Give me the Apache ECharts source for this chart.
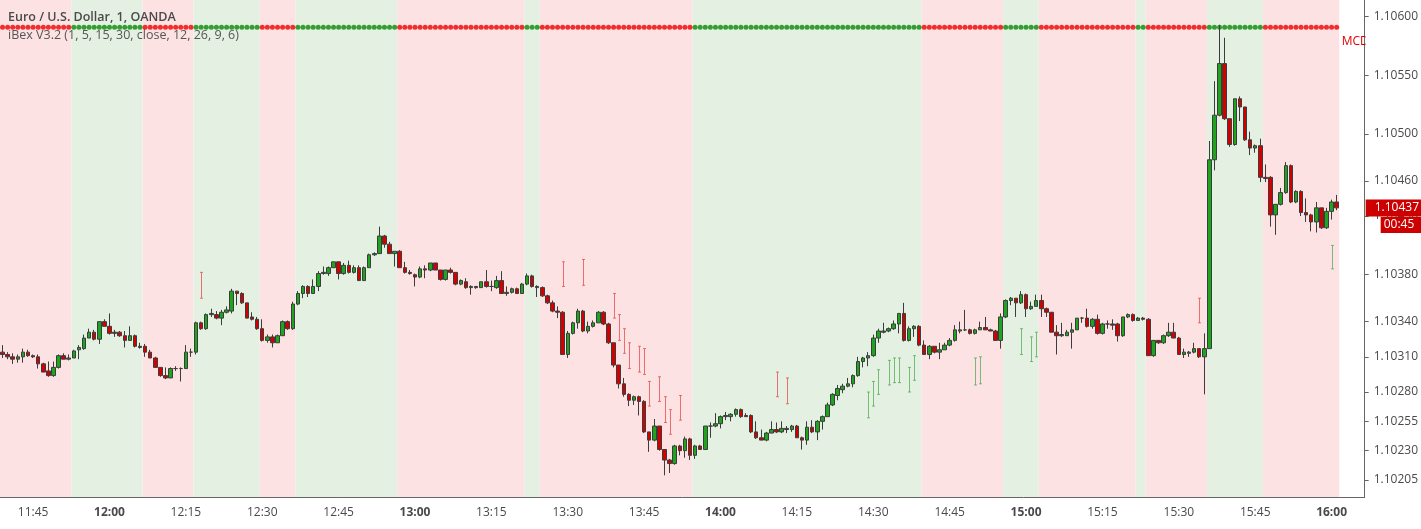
<!DOCTYPE html>
<html>
<head>
<meta charset="utf-8">
<script src="https://cdn.jsdelivr.net/npm/echarts@6/dist/echarts.min.js"></script>
<style>
  html, body { margin: 0; padding: 0; background: #fff; }
  #chart { width: 1421px; height: 529px; }
</style>
</head>
<body>
<div id="chart"></div>
<script>
// prices are in 0.00001 steps above 1.10000
const base = 1.1;
const firstBar = '11:39';
const lastCategory = '16:06';

// one bar per minute, 11:39 .. 16:01
const opens = [
  314,312,310,308,310,314,311,310,304,298,294,301,311,308,309,316,317,326,331,325,340,
  336,331,331,328,324,328,319,319,314,309, 301,294,292,300,300,300,314,314,339,334,
  346,346,343,348,349,366,364,356,344,342, 334,324,327,322,328,340,334,355,364,370,
  364,370,381,381,386,391,381,388,382,386, 375,386,397,398,413,406,398,400,386,382,
  380,378,385,384,390,384,376,384,382,372, 374,369,370,369,374,370,369,375,364,365,
  368,364,372,379,370,369,362,356,349,348, 312,330,339,349,332,336,339,348,338,322,
  303,287,278,273,276,272,246,239,251,231, 222,219,234,230,240,226,234,231,251,251,
  253,259,259,261,265,260,260,246,241,239, 245,248,246,249,248,251,241,239,250,246,
  255,259,269,277,282,285,287,294,306,309, 311,326,331,332,334,338,347,324,334,336,
  320,312,319,314,316,320,324,332,333,333, 330,333,335,333,332,324,344,358,360,356,
  363,351,353,358,351,348,331,328,328,331, 333,343,343,336,342,330,338,338,338,328,
  344,346,341,343,342,311,324,322,328,331, 326,312,313,314,317,310,317,478,516,560,
  513,491,530,523,495,488,490,463,463,431, 440,450,473,442,451,433,431,425,437,420,
  434,442
];
const highs = [
  320,314,313,312,317,316,312,312,305,306,306,312,313,312,316,320,329,334,333,340,342,
  347,333,332,332,336,329,322,321,316,310, 301,301,301,302,301,320,317,340,340,347,
  351,349,350,353,368,366,365,356,348,344, 342,329,329,329,341,341,357,366,371,371,
  376,383,387,387,391,391,390,392,388,388, 387,398,399,421,414,408,400,401,391,384,
  381,387,388,390,390,384,384,386,382,376, 377,371,370,374,384,375,379,383,370,369,
  369,373,381,380,371,370,363,358,353,349, 332,340,351,350,340,341,349,349,339,322,
  303,292,279,277,277,273,246,257,251,231, 223,235,235,242,241,235,235,251,254,262,
  260,263,262,266,266,262,261,255,248,246, 255,254,255,251,252,252,242,255,256,256,
  260,271,279,286,287,292,295,310,310,314, 329,334,339,335,341,347,356,336,337,337,
  324,320,319,322,322,326,337,340,350,334, 334,340,344,334,333,347,359,361,360,366,
  364,357,363,363,352,348,337,339,333,339, 343,344,351,343,346,339,341,342,339,344,
  347,347,344,344,343,324,324,329,339,339, 327,317,315,322,317,330,494,545,593,582,
  513,530,532,523,502,491,496,474,464,440, 454,476,474,452,452,445,432,442,437,437,
  444,448
];
const lows = [
  309,308,304,305,305,310,309,300,297,293,293,300,308,307,309,308,316,326,324,321,336,
  329,327,327,318,324,318,317,310,309,301, 293,291,292,298,289,300,310,312,333,333,
  344,342,337,347,347,354,355,343,341,333, 323,322,318,322,328,333,333,354,360,361,
  364,366,380,379,386,376,380,381,381,375, 375,386,396,398,403,398,387,386,381,380,
  370,377,377,383,384,375,375,381,371,371, 368,363,368,369,369,366,368,364,362,364,
  364,364,371,369,361,361,355,348,343,312, 309,329,334,331,330,335,339,337,321,301,
  283,276,268,269,260,245,229,238,230,209, 211,218,226,224,222,223,231,231,241,250,
  249,256,255,259,258,259,245,240,239,238, 245,245,245,245,246,241,231,235,245,239,
  248,259,268,273,279,284,284,293,301,302, 310,322,330,331,333,330,323,323,327,319,
  312,308,313,308,316,319,323,330,332,329, 329,333,333,332,324,317,343,354,344,355,
  344,350,353,344,344,331,312,327,328,317, 333,339,335,334,329,329,334,333,323,327,
  343,340,341,341,311,310,321,321,327,326, 312,309,310,313,309,278,317,469,515,512,
  489,490,511,494,482,484,459,459,421,414, 439,449,441,441,430,425,417,416,419,419,
  427,435
];
const closes = [
  312,310,308,310,314,311,310,304,297,294,301,311,308,309,315,318,326,331,325,340,336,
  330,330,328,324,328,319,318,314,309,301, 294,292,300,300,300,314,314,339,334,346,
  347,343,348,350,366,364,356,343,342,334, 324,327,322,328,340,334,355,364,370,364,
  370,381,382,386,391,381,388,382,386,375, 386,397,398,413,406,398,400,386,382,381,
  378,385,384,390,384,376,384,382,372,375, 369,370,369,374,370,370,375,364,365,368,
  364,372,379,370,369,362,356,349,348,312, 330,339,349,332,336,339,348,338,322,303,
  287,278,273,276,272,246,239,251,231,222, 219,234,230,240,226,234,231,251,251,253,
  259,260,261,265,259,259,246,241,239,245, 248,246,249,248,251,241,239,250,246,255,
  259,269,278,283,285,287,294,306,309,311, 326,332,332,334,338,347,324,334,336,320,
  312,319,314,316,320,324,333,333,333,330, 333,335,333,332,324,344,358,360,356,363,
  351,353,358,351,348,331,328,329,331,333, 343,343,336,342,330,338,338,337,328,344,
  346,341,343,342,311,324,322,328,331,326, 312,314,314,317,310,317,478,516,560,513,
  491,530,523,495,488,490,463,462,431,440, 450,473,442,451,433,431,425,437,420,434,
  442,437
];

// background state: 0 = bearish (pink), 1 = bullish (green)
const bgRuns = [
  ['11:39','11:52',0], ['11:53','12:06',1], ['12:07','12:16',0], ['12:17','12:29',1],
  ['12:30','12:36',0], ['12:37','12:56',1], ['12:57','13:21',0], ['13:22','13:24',1],
  ['13:25','13:54',0], ['13:55','14:39',1], ['14:40','14:55',0], ['14:56','15:02',1],
  ['15:03','15:21',0], ['15:22','15:23',1], ['15:24','15:35',0], ['15:36','15:46',1],
  ['15:47','16:01',0]
];
const dotRuns = bgRuns;
const dotLevel = 1.10591;

// indicator marks [time, low, high]
const redSignals = [
  ['12:18',360,382], ['13:29',370,391], ['13:33',371,393], ['13:39',343,364],
  ['13:40',324,346], ['13:41',313,334], ['13:42',300,322], ['13:44',297,319],
  ['13:45',295,317], ['13:46',268,289], ['13:48',272,293], ['13:49',254,276],
  ['13:50',244,265], ['13:52',256,277], ['14:11',276,297], ['14:13',270,292],
  ['15:34',339,360]
];
const greenSignals = [
  ['14:29',258,280], ['14:30',268,289], ['14:31',278,299], ['14:33',286,307],
  ['14:34',288,309], ['14:35',288,309], ['14:37',280,301], ['14:38',290,311],
  ['14:50',286,309], ['14:51',287,310], ['14:59',312,334], ['15:01',306,327],
  ['15:02',310,331], ['16:00',385,405]
];

const priceTicks = [1.10205, 1.10230, 1.10255, 1.10280, 1.10310, 1.10340, 1.10380,
  1.10430, 1.10460, 1.10500, 1.10550, 1.10600];
const lastPrice = 1.10437;
const countdown = '00:45';
const yMin = 1.101905, yMax = 1.106142;

const toMin = t => { const [h, m] = t.split(':').map(Number); return h * 60 + m; };
const idx = t => toMin(t) - toMin(firstBar);
const px = v => +(base + v / 1e5).toFixed(5);

const categories = [];
for (let m = toMin(firstBar); m <= toMin(lastCategory); m++) {
  categories.push(String(Math.floor(m / 60)).padStart(2, '0') + ':' + String(m % 60).padStart(2, '0'));
}

const candleData = opens.map((o, i) => [px(o), px(closes[i]), px(lows[i]), px(highs[i])]);
const bgColors = ['#fde2e4', '#e4f0e2'];
const dotColors = ['#ee0000', '#078a07'];

const dotData = [];
dotRuns.forEach(([s, e, st]) => {
  for (let i = idx(s); i <= idx(e); i++) {
    dotData.push({ value: [i, dotLevel], itemStyle: { color: dotColors[st] } });
  }
});

const signalItem = (color) => (params, api) => {
  const a = api.coord([api.value(0), api.value(1)]);
  const b = api.coord([api.value(0), api.value(2)]);
  const x = Math.round(a[0]) + 0.5;
  const st = { stroke: color, lineWidth: 1 };
  return {
    type: 'group',
    children: [
      { type: 'line', shape: { x1: x, y1: a[1], x2: x, y2: b[1] }, style: st },
      { type: 'line', shape: { x1: x - 1.5, y1: a[1], x2: x + 1.5, y2: a[1] }, style: st },
      { type: 'line', shape: { x1: x - 1.5, y1: b[1], x2: x + 1.5, y2: b[1] }, style: st }
    ]
  };
};

const chart = echarts.init(document.getElementById('chart'));

chart.setOption({
  animation: false,
  title: [
    {
      text: 'Euro / U.S. Dollar, 1, OANDA', left: 3, top: 6, padding: 5,
      textStyle: { fontFamily: 'Open Sans', fontSize: 12.5, fontWeight: 600, color: '#4a4a4a' }
    },
    {
      text: 'iBex V3.2 (1, 5, 15, 30, close, 12, 26, 9, 6)', left: 3, top: 24, padding: 5,
      textStyle: { fontFamily: 'Open Sans', fontSize: 12.5, fontWeight: 'normal', color: '#555' }
    }
  ],
  grid: { left: -1.8, right: 56, top: 0, bottom: 32 },
  xAxis: {
    type: 'category',
    data: categories,
    boundaryGap: true,
    axisLine: { lineStyle: { color: '#666' } },
    axisTick: {
      alignWithLabel: true, length: 4, lineStyle: { color: '#666' },
      interval: (i, v) => toMin(v) % 15 === 0
    },
    axisLabel: {
      interval: (i, v) => toMin(v) % 15 === 0,
      margin: 10,
      fontFamily: 'Open Sans', fontSize: 12, color: '#4a4a4a',
      formatter: v => (v.endsWith(':00') ? '{b|' + v + '}' : v),
      rich: { b: { fontFamily: 'Open Sans', fontSize: 12, fontWeight: 'bold', color: '#4a4a4a' } }
    },
    splitLine: { show: false }
  },
  yAxis: {
    type: 'value',
    position: 'right',
    min: yMin,
    max: yMax,
    scale: true,
    axisLine: { show: true, lineStyle: { color: '#666' } },
    axisTick: { show: true, length: 4, customValues: priceTicks, lineStyle: { color: '#666' } },
    axisLabel: {
      customValues: priceTicks, margin: 9,
      fontFamily: 'Open Sans', fontSize: 12, color: '#4a4a4a',
      formatter: v => v.toFixed(5)
    },
    splitLine: { show: false }
  },
  series: [
    {
      type: 'custom',
      name: 'bg',
      silent: true,
      z: 0,
      encode: { x: [0, 1] },
      data: bgRuns.map(([s, e, st]) => [idx(s), idx(e), st]),
      renderItem: (params, api) => {
        const w = api.size([1, 0])[0];
        const p0 = api.coord([api.value(0), yMin]);
        const p1 = api.coord([api.value(1), yMin]);
        const cs = params.coordSys;
        return {
          type: 'rect',
          shape: { x: p0[0] - w / 2, y: cs.y, width: p1[0] - p0[0] + w, height: cs.height },
          style: { fill: bgColors[api.value(2)] }
        };
      }
    },
    {
      type: 'scatter',
      name: 'trend dots',
      silent: true,
      z: 3,
      symbol: 'circle',
      symbolSize: 5,
      data: dotData
    },
    {
      type: 'custom',
      name: 'sell marks',
      silent: true,
      z: 2,
      encode: { x: 0, y: [1, 2] },
      data: redSignals.map(([t, l, h]) => [idx(t), px(l), px(h)]),
      renderItem: signalItem('rgba(232,80,80,0.8)')
    },
    {
      type: 'custom',
      name: 'buy marks',
      silent: true,
      z: 2,
      encode: { x: 0, y: [1, 2] },
      data: greenSignals.map(([t, l, h]) => [idx(t), px(l), px(h)]),
      renderItem: signalItem('rgba(70,165,70,0.7)')
    },
    {
      type: 'candlestick',
      name: 'EURUSD',
      z: 5,
      barWidth: 4,
      data: candleData,
      itemStyle: {
        color: '#1ea51e',
        color0: '#d40000',
        borderColor: '#3c3c3c',
        borderColor0: '#3c3c3c',
        borderWidth: 1
      },
      markLine: {
        silent: true,
        symbol: ['none', 'none'],
        label: { show: false },
        lineStyle: { color: 'rgba(210,70,70,0.6)', width: 1, type: 'solid' },
        data: [{ yAxis: lastPrice }]
      }
    }
  ]
});

const py = chart.convertToPixel({ yAxisIndex: 0 }, lastPrice);
const axisX = chart.convertToPixel({ xAxisIndex: 0 }, categories.length - 1) + 2.55;
chart.setOption({
  graphic: [
    {
      type: 'text', x: axisX - 23, y: 42, z: 10,
      style: { text: 'MCD', fill: '#e00000', font: '12px "Open Sans"', verticalAlign: 'middle' }
    },
    {
      type: 'rect', z: 11,
      shape: { x: axisX + 1, y: 32, width: 60, height: 22 },
      style: { fill: '#fff' }
    },
    {
      type: 'rect', z: 12,
      shape: { x: axisX + 1, y: Math.round(py) - 8.5, width: 60, height: 17 },
      style: { fill: '#cc0000' }
    },
    {
      type: 'text', z: 13, x: axisX + 10, y: Math.round(py),
      style: { text: lastPrice.toFixed(5), fill: '#fff', font: '12px "Open Sans"', verticalAlign: 'middle' }
    },
    {
      type: 'rect', z: 12,
      shape: { x: axisX + 16, y: Math.round(py) + 9, width: 45, height: 16 },
      style: { fill: '#cc0000' }
    },
    {
      type: 'text', z: 13, x: axisX + 19, y: Math.round(py) + 17,
      style: { text: countdown, fill: '#fff', font: '12px "Open Sans"', verticalAlign: 'middle' }
    }
  ]
});
</script>
</body>
</html>
